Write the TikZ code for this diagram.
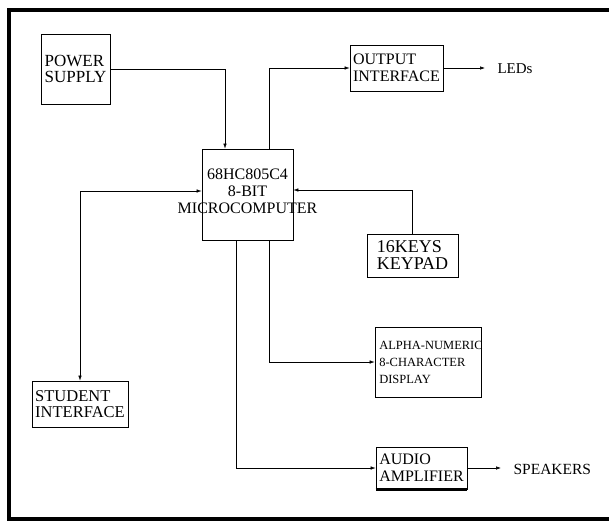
\documentclass[tikz,border=0pt]{standalone}
\usepackage{fontspec}
\setmainfont{Liberation Serif}
\usetikzlibrary{arrows.meta}

\begin{document}
\begin{tikzpicture}[x=1pt,y=-1pt,
	block/.style 2 args={draw,line width=0.7pt,minimum width=#1pt,minimum height=#2pt,inner sep=0pt,align=left},
	wire/.style={line width=0.6pt,-{Latex[length=5pt,width=3.5pt]}},
	txt/.style={font=\fontsize{16}{17}\selectfont}]
					%\draw[help lines] (0,0) grid[step=50] (609,520);
					\useasboundingbox (0,0) rectangle (609,520);
					\draw[line width=4pt] (612,10) -- (9,10) -- (9,518.5) -- (612,518.5);

					\node[block={91}{91}, label={[txt,align=center,yshift=3pt]center:68HC805C4\\8-BIT\\MICROCOMPUTER}] (mcu) at (247.5,194.5) {};
					\node[block={69}{70}, font=\fontsize{17}{16}\selectfont] (pwr) at (75.5,69) {POWER\\SUPPLY};
					\node[block={93}{46}, txt] (out) at (396.5,68) {OUTPUT\\INTERFACE};
					\node[block={91}{43}, font=\fontsize{18}{17}\selectfont] (keys) at (412.5,255.5) {16KEYS\\KEYPAD};
					\node[block={106}{70}, label={[font=\fontsize{12.5}{17}\selectfont,align=left,xshift=3pt]center:ALPHA-NUMERIC\\8-CHARACTER\\DISPLAY}] (disp) at (428,362) {};
					\node[block={91}{42}, txt] (amp) at (421.5,468) {AUDIO\\AMPLIFIER};
					\draw[line width=2.5pt] (amp.south west) -- (amp.south east);
					\node[block={96}{46}, font=\fontsize{16.5}{16}\selectfont] (stud) at (80,404) {STUDENT\\INTERFACE};
					\node[font=\fontsize{15}{14}\selectfont, anchor=west] (leds) at (494,69) {LEDs};
					\node[font=\fontsize{15.5}{14}\selectfont, anchor=west] (spk) at (510,469) {SPEAKERS};

					\draw[wire] (pwr.east) -| ([xshift=-22.5pt]mcu.north);
					\draw[wire] ([xshift=21.5pt]mcu.north) |- (out.west);
					\draw[wire,{Latex[length=5pt,width=3.5pt]}-{Latex[length=5pt,width=3.5pt]}] (stud.north) |- ([yshift=3.5pt]mcu.west);
					\draw[wire] (keys.north) |- ([yshift=4.5pt]mcu.east);
					\draw[wire] ([xshift=21.5pt]mcu.south) |- (disp.west);
					\draw[wire] ([xshift=-11.5pt]mcu.south) |- (amp.west);
					\foreach \a/\b in {out/leds,amp/spk}{\draw[wire,shorten >=9pt] (\a.east) -- (\a.east -| \b.west);};
				\end{tikzpicture}
\end{document}
